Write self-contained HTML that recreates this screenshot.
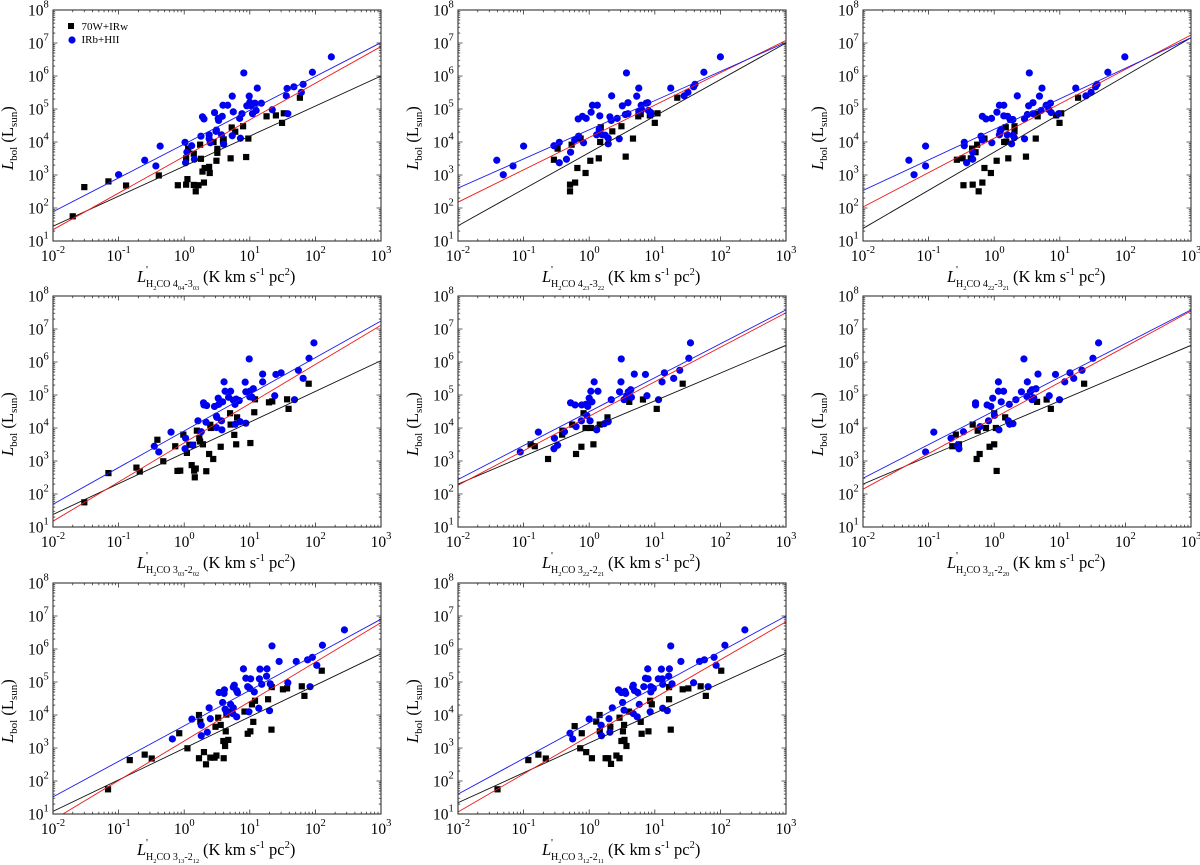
<!DOCTYPE html>
<html lang="en">
<head>
<meta charset="utf-8">
<title>Lbol versus H2CO line luminosity</title>
<style>
html,body{margin:0;padding:0;background:#fff;}
#figure{display:block;width:1200px;height:865px;font-family:"Liberation Serif","Times New Roman",serif;}
</style>
</head>
<body>
<svg id="figure" xmlns="http://www.w3.org/2000/svg" width="1200" height="865" viewBox="0 0 1200 865"></svg>
<script>
// Shared axis tick exponents
const xTickExponents = [-2, -1, 0, 1, 2, 3];
const yTickExponents = [1, 2, 3, 4, 5, 6, 7, 8];
const legendLabels = ["70W+IRw", "IRb+HII"];

// Transition labels: upper level, upper subscript, lower level, lower subscript
const panelUpper = ["4", "4", "4", "3", "3", "3", "3", "3"];
const panelUpperSub = ["04", "23", "22", "03", "22", "21", "13", "12"];
const panelLower = ["3", "3", "3", "2", "2", "2", "2", "2"];
const panelLowerSub = ["03", "22", "21", "02", "21", "20", "12", "11"];

// Fit lines: Lbol at L'=1e-2 and at L'=1e3, one entry per panel
const blueFitStart = [77, 400, 340, 49, 275, 300, 33, 40];
const blueFitEnd = [10300000, 10500000, 14500000, 17500000, 38000000, 38000000, 8000000, 10000000];
const redFitStart = [22, 150, 107, 15, 185, 140, 6.6, 11.5];
const redFitEnd = [7800000, 12000000, 17500000, 13000000, 31000000, 35000000, 6300000, 6700000];
const blackFitStart = [28, 29, 24, 24, 200, 200, 12, 22];
const blackFitEnd = [1000000, 10000000, 14500000, 1100000, 3200000, 3200000, 720000, 740000];

// Panel 1: H2CO 4(04)-3(03)
const p1BlackX = [0.02,0.03,0.07,0.13,0.41,0.8,1.07,1.12,1.07,1.15,1.4,1.4,1.65,1.5,2.0,1.8,1.75,1.9,2.05,2.4,2.45,2.8,3.1,3.2,3.2,3.9,4,5.1,5.3,6,7.9,8.8,9.5,18,25,31,33,58];
const p1BlackY = [56,430,640,480,970,490,510,750,3200,6300,4400,500,490,320,590,3100,8300,1270,1630,1760,1150,10000,2700,6200,4700,10500,12000,3200,27500,20500,30000,3500,12700,60000,64000,38000,74000,220000];
const p1BlueX = [0.1,0.25,0.37,0.43,1.03,1.05,1.1,1.3,1.43,1.8,1.9,2,2.4,2.5,2.4,2.9,3.1,3.05,3.3,3.35,3.8,3.9,4.6,3.7,4,5.4,5.4,5.6,7,7.2,7.6,8.1,9,9.8,10,11,10.5,12,12.5,13,15,22,36,37,38,47,61,65,90,175];
const p1BlueY = [1020,2800,1880,7500,9800,2350,4900,7700,3000,15000,58000,50000,16500,9500,12500,78000,23000,21000,52000,45000,60000,130000,130000,16500,8600,15500,245000,82000,52000,13000,72000,1240000,125000,245000,160000,72000,125000,150000,90000,430000,150000,95000,250000,420000,72000,470000,320000,560000,1300000,3800000];

// Panel 2: H2CO 4(23)-3(22)
const p2BlackX = [0.29,0.33,0.54,0.74,0.51,0.51,0.61,0.66,0.88,1.04,1.4,1.5,1.47,2.25,3.1,3.6,4.65,5.6,6.1,8.4,10,11,22];
const p2BlackY = [2900,6300,8300,12700,510,320,590,1630,1150,2700,3200,28000,10000,21000,30000,3600,12700,60000,70000,64000,38000,74000,220000];
const p2BlueX = [0.039,0.049,0.069,0.1,0.29,0.35,0.35,0.45,0.52,0.6,0.68,0.69,0.79,0.82,0.9,1.07,1.12,1.33,1.42,1.3,1.45,1.58,1.76,1.95,1.95,2.07,2.2,2.17,2.67,2.87,3.2,3.55,3.7,3.9,3.9,5.3,5.7,5.7,6.2,6.3,7.4,7.8,8,8.7,8.7,17.5,28,32,39,41,56,100];
const p2BlueY = [2800,1020,1880,7500,7700,9800,2350,3000,4900,11500,50000,15000,60000,9500,52000,80000,130000,130000,24000,16500,62000,16500,16000,13000,8800,58000,250000,45000,52000,12500,125000,68000,1240000,155000,72000,245000,85000,430000,130000,96000,150000,155000,90000,78000,70000,430000,250000,320000,470000,560000,1300000,3800000];

// Panel 3: H2CO 4(22)-3(21)
const p3BlackX = [0.27,0.33,0.34,0.47,0.44,0.46,0.52,0.55,0.71,0.71,0.66,0.58,0.89,1.09,1.64,1.42,1.53,1.5,2.04,2.04,3.05,4.3,4.6,4.5,8.8,9.9,10.5,19];
const p3BlackY = [2900,3200,490,510,3200,6300,4900,8300,12700,1630,590,320,1150,2700,3200,10000,10300,28000,30000,21000,3600,12700,60000,72000,64000,38000,74000,220000];
const p3BlueX = [0.05,0.06,0.09,0.09,0.35,0.35,0.38,0.47,0.47,0.63,0.66,0.66,0.75,0.91,0.92,1.1,1.2,1.4,1.2,1.23,1.27,1.4,1.58,1.6,1.75,1.93,1.84,1.93,2.02,2.25,2.9,2.9,3.2,3.35,3.43,3.9,3.9,4.9,5.35,5.2,6.2,7.2,6.8,7.4,9.6,17.5,25,30,35,37,54,98];
const p3BlueY = [2800,1020,1880,7500,9800,7700,2350,4900,3000,15000,11500,60000,50000,52000,9500,80000,130000,130000,16500,21000,24000,62000,16500,60000,48000,48000,8800,16000,13500,250000,50000,12500,68000,125000,1240000,72000,155000,245000,430000,90000,130000,150000,96000,78000,72000,430000,250000,320000,470000,560000,1300000,3800000];

// Panel 4: H2CO 3(03)-2(02)
const p4BlackX = [0.03,0.07,0.187,0.21,0.39,0.48,0.73,0.79,0.87,0.97,1.1,1.2,1.3,1.37,1.42,1.5,1.45,1.56,1.7,1.75,1.93,2.17,2.4,2.77,2.5,2.55,3.6,5,5.1,5.8,6.2,6.4,10.2,11.7,12,19.6,22,37,39,79];
const p4BlackY = [56,430,630,480,4400,980,2800,500,510,6300,1760,3100,750,3100,510,590,320,8300,4900,3900,3200,490,1630,1150,12500,10000,2700,28000,12700,6200,3200,21000,3500,30000,74000,60000,64000,74000,38000,220000];
const p4BlueX = [0.35,0.41,0.63,1.03,1.05,1.34,1.62,1.82,1.97,2,2.2,2.15,2.9,3.1,3.15,3.1,3.3,3.35,3.85,3.7,3.75,4.05,4.2,5.1,4.75,5.6,5.95,6.2,6,6.9,7.1,8.5,8.7,8.7,9.8,10,10,10.8,11.3,15.7,15.7,24,25,30,48,55,65,80,95];
const p4BlueY = [2800,1880,7500,2350,4900,3000,16500,7700,58000,50000,48000,15000,45000,23000,21000,10300,80000,52000,62000,16500,8800,250000,130000,130000,85000,70000,52000,75000,13000,68000,15500,245000,14000,125000,1240000,130000,88000,86000,155000,430000,250000,95000,420000,470000,72000,560000,320000,1300000,3800000];

// Panel 5: H2CO 3(22)-2(21)
const p5BlackX = [0.128,0.148,0.236,0.387,0.39,0.55,0.63,0.76,0.82,0.88,1.06,1.16,1.45,1.9,4.08,6.6,10.7,26.6];
const p5BlackY = [3200,2800,1150,6300,8300,12700,1630,2700,28000,10000,10000,3200,12700,21000,62000,73000,38000,220000];
const p5BlueX = [0.089,0.168,0.29,0.295,0.33,0.42,0.52,0.61,0.63,0.77,0.76,0.89,0.92,0.95,1,1.03,1.1,1.06,1.19,1.36,1.3,1.7,1.95,2.17,2.9,3.05,3.08,3.4,3.7,3.95,4.3,4.4,4.87,7.2,7.6,11.4,12.9,14,19.4,24,33,35];
const p5BlueY = [1880,7500,2350,4900,3000,7700,58000,50000,11000,50000,16500,52000,24000,45000,80000,16500,62000,130000,250000,130000,8800,13500,15500,72000,125000,250000,1240000,72000,90000,125000,145000,85000,430000,420000,95000,72000,250000,470000,320000,560000,1300000,3800000];

// Panel 6: H2CO 3(21)-2(20)
const p6BlackX = [0.23,0.26,0.29,0.47,0.54,0.56,0.6,0.75,0.85,1,1,1.06,1.09,1.47,4.5,6.3,7.3,23.5];
const p6BlackY = [2800,6300,3200,12700,1150,8300,1630,10000,2700,28000,3200,10000,500,21000,62000,73000,38000,220000];
const p6BlueX = [0.09,0.12,0.22,0.275,0.29,0.34,0.52,0.52,0.61,0.78,0.82,0.89,0.95,1.01,1.16,1.18,1.16,1.28,1.39,1.7,1.64,1.72,1.93,2.14,2.6,2.84,3.2,3.15,3.55,3.77,3.77,4,4.33,4.65,6.9,8.6,9.9,11.9,14.3,16.3,21.8,32,39];
const p6BlueY = [1880,7500,4900,3000,2350,7700,58000,50000,11000,50000,16500,45000,80000,24000,250000,8800,130000,62000,130000,52000,16500,13000,13500,72000,125000,1240000,250000,90000,125000,145000,72000,82000,155000,430000,95000,420000,72000,250000,470000,320000,560000,1300000,3800000];

// Panel 7: H2CO 3(13)-2(12)
const p7BlackX = [0.069,0.148,0.25,0.32,0.84,1.12,1.68,1.76,1.68,2,2.15,2.5,2.9,3.1,3,3.3,3.6,4,3.95,4.3,4.2,4.7,4.4,4.9,8.3,9.3,10.2,11.3,10.8,12,19,21.4,21.6,32,37,62,68,125];
const p7BlackY = [56,430,630,480,2800,980,10000,6300,490,750,320,510,510,590,4400,8300,5000,490,1630,3200,1150,1760,10300,12700,12700,2700,3200,6200,21000,27000,30000,3600,70000,60000,64000,74000,38000,220000];
const p7BlueX = [0.66,1.31,1.82,1.82,2.25,2.4,2.5,3.4,3.85,4.1,4.05,4.2,4.4,5.1,5.6,5.6,5.8,6.3,6.5,6.3,5.5,8,8.7,10.3,9.3,10,9.7,11.7,13.7,14.3,14,15.2,18,18.3,20,20.5,21.8,28,38,51,76,83,90,105,128,277];
const p7BlueY = [1880,7500,4900,2350,3000,16500,7700,48000,24000,58000,45000,15000,12500,21000,16500,70000,80000,55000,48000,8800,11000,250000,130000,125000,72000,64000,12500,50000,16000,245000,125000,85000,150000,250000,13500,88000,1240000,420000,95000,420000,470000,72000,560000,320000,1300000,3800000];

// Panel 8: H2CO 3(12)-2(11)
const p8BlackX = [0.04,0.118,0.168,0.218,0.6,0.77,0.73,0.9,1.1,1.28,1.44,1.45,1.78,1.95,2.1,2.15,2.6,2.9,2.9,3.27,3.4,3.1,3.45,3.7,4.05,6.1,6.3,8,8.5,9,16.5,16.5,17.5,26.6,32.5,50,60,103];
const p8BlackY = [56,430,630,480,4600,2800,980,750,490,6300,10000,3200,490,490,4400,330,590,490,8300,3200,5000,1630,1760,1150,12700,6200,2700,3200,27000,21000,30000,70000,3600,60000,64000,74000,38000,220000];
const p8BlueX = [0.51,0.56,1,1.52,1.54,2,2.07,2.25,2.8,3.1,3.23,3.4,3.5,3.6,4.7,4.6,4.7,4.9,5.4,5.5,5.8,6.8,7.2,7.8,7.9,8.5,8.7,8.7,9.5,11.3,12.6,13,13.2,13.2,15.5,16.3,16.7,17.5,18.3,25,39,48,57,65,80,86,117,236];
const p8BlueY = [2800,1880,7500,4900,2350,7700,3000,16500,58000,48000,24000,14000,52000,45000,11000,70000,80000,55000,8800,48000,21000,72000,130000,250000,125000,12500,72000,50000,64000,125000,245000,125000,16000,85000,13500,150000,250000,1240000,88000,420000,95000,420000,470000,72000,560000,320000,1300000,3800000];

const blackXSeries = [p1BlackX, p2BlackX, p3BlackX, p4BlackX, p5BlackX, p6BlackX, p7BlackX, p8BlackX];
const blackYSeries = [p1BlackY, p2BlackY, p3BlackY, p4BlackY, p5BlackY, p6BlackY, p7BlackY, p8BlackY];
const blueXSeries = [p1BlueX, p2BlueX, p3BlueX, p4BlueX, p5BlueX, p6BlueX, p7BlueX, p8BlueX];
const blueYSeries = [p1BlueY, p2BlueY, p3BlueY, p4BlueY, p5BlueY, p6BlueY, p7BlueY, p8BlueY];

const NS = "http://www.w3.org/2000/svg";
const svg = document.getElementById("figure");
const columnLefts = [53, 458, 863];
const rowTops = [10, 296, 583];
const plotW = 328;
const plotH = 231;
const X_MIN = -2, X_MAX = 3, Y_MIN = 1, Y_MAX = 8;

function make(tag, attrs, parent) {
  const el = document.createElementNS(NS, tag);
  for (const k in attrs) el.setAttribute(k, attrs[k]);
  parent.appendChild(el);
  return el;
}
function span(parent, str, attrs) {
  const t = make("tspan", attrs || {}, parent);
  t.textContent = str;
  return t;
}

function drawPanel(i) {
  const left = columnLefts[i % 3];
  const top = rowTops[Math.floor(i / 3)];
  const bottom = top + plotH;
  const right = left + plotW;
  const sx = function (v) { return left + (Math.log10(v) - X_MIN) / (X_MAX - X_MIN) * plotW; };
  const sy = function (v) { return bottom - (Math.log10(v) - Y_MIN) / (Y_MAX - Y_MIN) * plotH; };

  const g = make("g", {}, svg);
  
  

  const clipId = "plot-clip-" + i;
  const defs = make("defs", {}, g);
  const clip = make("clipPath", { id: clipId }, defs);
  make("rect", { x: left, y: top, width: plotW, height: plotH }, clip);

  // Black squares
  const blackG = make("g", { fill: "#000" }, g);
  
  
  blackXSeries[i].forEach(function (xv, k) {
    const r = make("rect", { x: sx(xv) - 3.1, y: sy(blackYSeries[i][k]) - 3.1, width: 6.2, height: 6.2 }, blackG);
    
    
  });

  // Blue circles
  const blueG = make("g", { fill: "#0000f0" }, g);
  
  
  blueXSeries[i].forEach(function (xv, k) {
    const c = make("circle", { cx: sx(xv), cy: sy(blueYSeries[i][k]), r: 3.6 }, blueG);
    
    
  });

  // Fit lines
  const lineG = make("g", { "clip-path": "url(#" + clipId + ")", "stroke-width": 0.9, fill: "none" }, g);
  const fits = [
    ["#111", blackFitStart[i], blackFitEnd[i], "black-fit-line"],
    ["#f01818", redFitStart[i], redFitEnd[i], "red-fit-line"],
    ["#1a1af0", blueFitStart[i], blueFitEnd[i], "blue-fit-line"]
  ];
  fits.forEach(function (f) {
    const l = make("line", { x1: sx(0.01), y1: sy(f[1]), x2: sx(1000), y2: sy(f[2]), stroke: f[0] }, lineG);
    
    
  });

  // Frame
  const frame = make("rect", { x: left, y: top, width: plotW, height: plotH, fill: "none", stroke: "#333", "stroke-width": 1.1 }, g);
  
  

  // Ticks
  let d = "";
  for (let e = X_MIN; e < X_MAX; e++) {
    for (let m = 1; m < 10; m++) {
      const px = sx(m * Math.pow(10, e));
      const len = m === 1 ? 4.5 : 2.2;
      d += "M" + px + " " + bottom + "v" + (-len) + "M" + px + " " + top + "v" + len;
    }
  }
  for (let e = Y_MIN; e < Y_MAX; e++) {
    for (let m = 1; m < 10; m++) {
      const py = sy(m * Math.pow(10, e));
      const len = m === 1 ? 4.5 : 2.2;
      d += "M" + left + " " + py + "h" + len + "M" + right + " " + py + "h" + (-len);
    }
  }
  const ticks = make("path", { d: d, stroke: "#333", "stroke-width": 0.8, fill: "none" }, g);
  
  

  // Y tick labels
  yTickExponents.forEach(function (e) {
    const y = sy(Math.pow(10, e)) + 5.5;
    const t = make("text", { x: left - 25, y: y, "font-size": 15.5, fill: "#000" }, g);
    
    
    span(t, "10");
    span(t, String(e), { "font-size": 10.5, dy: -8 });
  });

  // X tick labels
  xTickExponents.forEach(function (e) {
    const t = make("text", { x: sx(Math.pow(10, e)), y: bottom + 20, "font-size": 15.5, "text-anchor": "middle", fill: "#000" }, g);
    
    
    span(t, "10");
    span(t, String(e), { "font-size": 10.5, dy: -8 });
  });

  // X title
  const base = bottom + 41;
  const sub = base + 5;
  const subsub = base + 8;
  const xt = make("text", { x: left + 84, y: base, "font-size": 16.5, fill: "#000" }, g);
  
  
  span(xt, "L", { "font-style": "italic" });
  span(xt, "'", { x: left + 93, y: base - 9, "font-size": 11 });
  span(xt, "H", { x: left + 93, y: sub, "font-size": 10 });
  span(xt, "2", { y: subsub, "font-size": 6.5 });
  span(xt, "CO " + panelUpper[i], { y: sub, "font-size": 10 });
  span(xt, panelUpperSub[i], { y: subsub, "font-size": 6.5 });
  span(xt, "-" + panelLower[i], { y: sub, "font-size": 10 });
  span(xt, panelLowerSub[i], { y: subsub, "font-size": 6.5 });
  span(xt, "(K km s", { x: left + 150, y: base, "font-size": 16.5 });
  span(xt, "-1", { y: base - 7, "font-size": 10.5 });
  span(xt, " pc", { y: base, "font-size": 16.5 });
  span(xt, "2", { y: base - 7, "font-size": 10.5 });
  span(xt, ")", { y: base, "font-size": 16.5 });

  // Y title
  const yx = left - 40;
  const yy = top + 160;
  const yt = make("text", { x: yx, y: yy, "font-size": 16.5, fill: "#000", transform: "rotate(-90 " + yx + " " + yy + ")" }, g);
  
  
  span(yt, "L", { "font-style": "italic" });
  span(yt, "bol", { "font-size": 11, dy: 4 });
  span(yt, " (L", { dy: -4 });
  span(yt, "sun", { "font-size": 11, dy: 4 });
  span(yt, ")", { dy: -4 });

  // Legend in the first panel only
  if (i === 0) {
    const lg = make("g", {}, g);
    
    
    const s = make("rect", { x: left + 15, y: top + 13, width: 6, height: 6, fill: "#000" }, lg);
    
    
    const c = make("circle", { cx: left + 19, cy: top + 30, r: 3.6, fill: "#0000f0" }, lg);
    
    
    const t1 = make("text", { x: left + 28.5, y: top + 20, "font-size": 11, fill: "#000" }, lg);
    
    
    t1.textContent = legendLabels[0];
    const t2 = make("text", { x: left + 28.5, y: top + 33, "font-size": 11, fill: "#000" }, lg);
    
    
    t2.textContent = legendLabels[1];
  }
}

for (let i = 0; i < blackXSeries.length; i++) drawPanel(i);
</script>
</body>
</html>
